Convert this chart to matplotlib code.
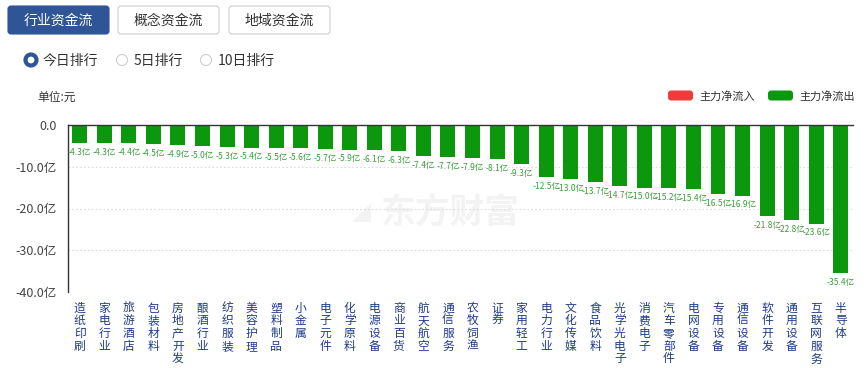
import matplotlib
matplotlib.use("Agg")
import matplotlib.pyplot as plt
from matplotlib.patches import FancyBboxPatch, Circle

plt.rcParams['font.family'] = ['Noto Sans CJK SC', 'DejaVu Sans']

categories = ["造纸印刷", "家电行业", "旅游酒店", "包装材料", "房地产开发", "酿酒行业", "纺织服装",
              "美容护理", "塑料制品", "小金属", "电子元件", "化学原料", "电源设备", "商业百货",
              "航天航空", "通信服务", "农牧饲渔", "证券", "家用轻工", "电力行业", "文化传媒",
              "食品饮料", "光学光电子", "消费电子", "汽车零部件", "电网设备", "专用设备",
              "通信设备", "软件开发", "通用设备", "互联网服务", "半导体"]
values = [-4.3, -4.3, -4.4, -4.5, -4.9, -5.0, -5.3, -5.4, -5.5, -5.6, -5.7, -5.9, -6.1, -6.3,
          -7.4, -7.7, -7.9, -8.1, -9.3, -12.5, -13.0, -13.7, -14.7, -15.0, -15.2, -15.4, -16.5,
          -16.9, -21.8, -22.8, -23.6, -35.4]
yticks = [0, -10, -20, -30, -40]
ytick_labels = ["0.0", "-10.0亿", "-20.0亿", "-30.0亿", "-40.0亿"]
buttons = ["行业资金流", "概念资金流", "地域资金流"]
radios = ["今日排行", "5日排行", "10日排行"]
legend_labels = ["主力净流入", "主力净流出"]

W, H = 868, 368
fig = plt.figure(figsize=(W / 100, H / 100), dpi=100)
fig.patch.set_facecolor("white")

# overlay axes in pixel coordinates
ov = fig.add_axes([0, 0, 1, 1])
ov.set_xlim(0, W)
ov.set_ylim(H, 0)
ov.axis("off")

GREEN = "#0c980c"
RED = "#f23a3a"
BLUE = "#2f5597"

# buttons
bx = [8, 118, 229]
for i, (x, t) in enumerate(zip(bx, buttons)):
    active = i == 0
    p = FancyBboxPatch((x, 6), 101, 28, boxstyle="round,pad=0,rounding_size=3",
                       fc=BLUE if active else "white", ec=BLUE if active else "#cfcfcf", lw=0.8)
    ov.add_patch(p)
    ov.text(x + 50.5, 20.5, t, ha="center", va="center", fontsize=10,
            color="white" if active else "#333333")

# radios
rx = [31, 122, 206]
for i, (x, t) in enumerate(zip(rx, radios)):
    if i == 0:
        ov.add_patch(Circle((x, 60), 5.5, fc="white", ec=BLUE, lw=3))
    else:
        ov.add_patch(Circle((x, 60), 5.5, fc="white", ec="#d0d0d0", lw=0.8))
    ov.text(x + 12, 60.5, t, ha="left", va="center", fontsize=10, color="#333333")

ov.text(37, 97, "单位:元", ha="left", va="center", fontsize=8.5, color="#333333")

# legend
for x, c, t in [(668, RED, legend_labels[0]), (768, GREEN, legend_labels[1])]:
    ov.add_patch(FancyBboxPatch((x, 90.5), 25, 10, boxstyle="round,pad=0,rounding_size=3",
                                fc=c, ec="none"))
    ov.text(x + 31, 96, t, ha="left", va="center", fontsize=8, color="#333333")

# main chart axes
left_px, right_px, top_px, bot_px = 67.5, 853, 125, 292
ax = fig.add_axes([left_px / W, 1 - bot_px / H, (right_px - left_px) / W, (bot_px - top_px) / H])
ax.patch.set_alpha(0)
n = len(categories)
xs = list(range(n))
ax.set_xlim(-0.5, n - 0.5)
ax.set_ylim(-40, 0)

# watermark
ax.text(450, 212, "东方财富", transform=ov.transData, ha="center", va="center",
        fontsize=25, fontweight="bold", color="#f3f3f3", zorder=0)
ax.text(362, 212, "◢", transform=ov.transData, ha="center", va="center",
        fontsize=18, color="#f3f3f3", zorder=0, family=["DejaVu Sans"])

for y in [-10, -20, -30, -40]:
    ax.axhline(y, color="#dcdcdc", lw=0.8, ls=(0, (1.5, 2)), zorder=1)

ax.bar(xs, values, width=0.61, color=GREEN, zorder=2)
for x, v in zip(xs, values):
    ax.annotate(f"{v:.1f}亿", (x, v), xytext=(0, -3.5), textcoords="offset points",
                ha="center", va="top", fontsize=6.1, color="#3a9f3a", zorder=3)

for s in ["right", "bottom"]:
    ax.spines[s].set_visible(False)
ax.spines["left"].set_color("#333333")
ax.spines["top"].set_color("#333333")
ax.spines["left"].set_linewidth(1)
ax.spines["top"].set_linewidth(1)

ax.set_yticks(yticks)
ax.set_yticklabels(ytick_labels)
ax.tick_params(axis="y", length=0, pad=8, labelsize=9, labelcolor="#444444")
ax.set_xticks([])

# vertical category labels
for x, c in zip(xs, categories):
    ax.text(x, -42.3, "\n".join(c), ha="center", va="top", fontsize=8.5,
            linespacing=0.97, color="#1f3c88")

fig.savefig("out.png", dpi=100, facecolor="white")
